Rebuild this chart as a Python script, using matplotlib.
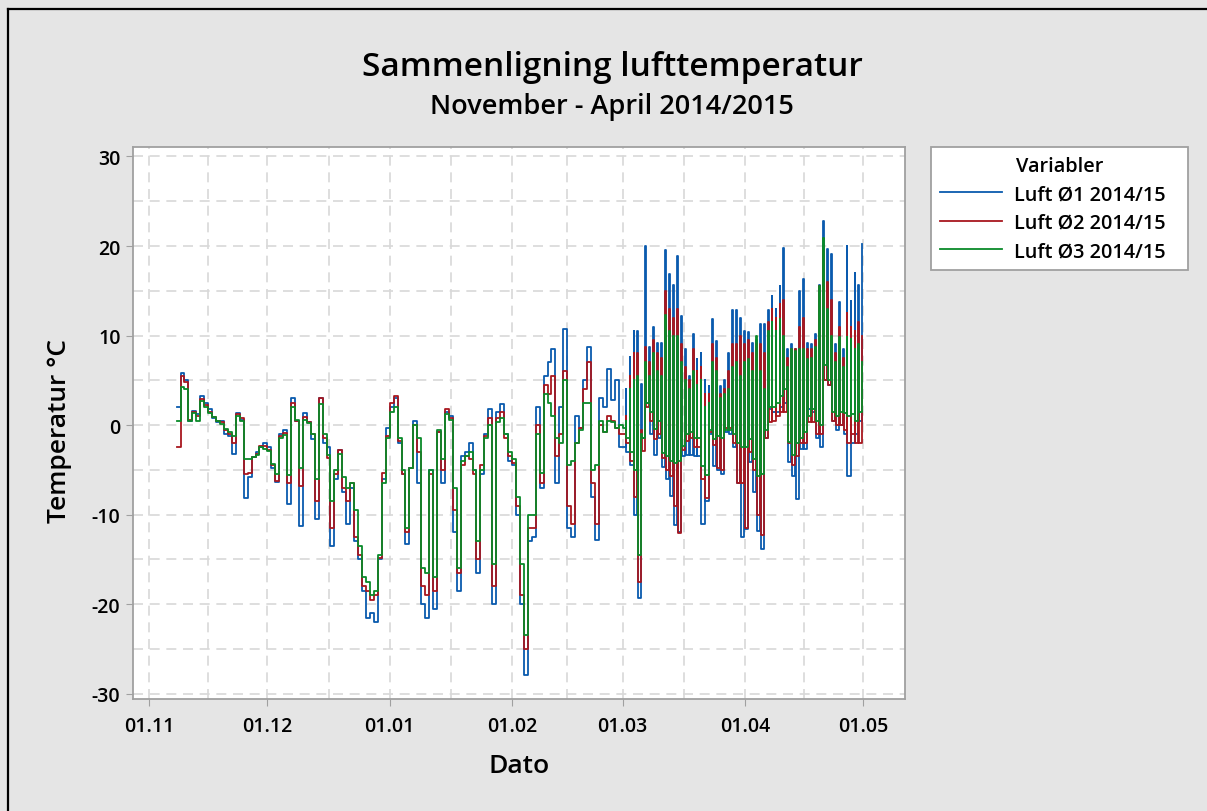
import numpy as np
import pandas as pd
import matplotlib
matplotlib.use('Agg')
import matplotlib.pyplot as plt
import matplotlib.dates as mdates
from matplotlib.lines import Line2D
from matplotlib.ticker import FixedLocator, MultipleLocator

# daglige verdier 08.11.2014 - 28.02.2015 (grader C)
luft1_vinter = [2.0, 5.8, 5.0, 0.5, 1.6, 1.2, 3.3, 2.5, 1.8, 0.8,
                0.3, 0.5, -1.0, -1.2, -3.2, 1.4, 0.6, -8.2, -5.8, -3.6,
                -3.0, -2.5, -2.0, -2.5, -4.8, -6.4, -1.0, -0.6, -8.8, 3.0,
                0.4, -11.3, 1.4, 0.3, -1.6, -10.5, 3.0, -2.0, -2.5, -13.5,
                -6.0, -2.8, -7.5, -11.0, -7.0, -13.0, -15.0, -18.5, -21.5, -21.0,
                -22.0, -15.0, -6.0, -0.3, 2.0, 3.0, -2.0, -5.5, -13.3, -4.8,
                0.5, -6.5, -20.0, -21.5, -5.0, -20.5, -0.8, -6.5, 1.5, 1.0,
                -12.0, -18.5, -3.5, -3.0, -2.0, -5.0, -16.5, -5.5, -1.0, 1.8,
                -20.0, 1.5, 2.3, -1.0, -4.0, -4.5, -10.0, -20.0, -27.9, -13.0,
                -12.5, 2.0, -7.0, 5.5, 7.0, 8.5, -6.5, 2.0, 10.7, -11.5,
                -12.5, 1.0, -0.3, 5.0, 8.7, -8.0, -12.8, 3.0, 2.0, 6.3,
                2.8, 5.0, -2.5]
luft2_vinter = [-2.5, 5.5, 4.8, 0.6, 1.5, 1.0, 2.9, 2.2, 1.5, 0.9,
                0.5, 0.3, -0.6, -1.0, -2.0, 1.2, 0.8, -5.5, -5.4, -3.6,
                -3.2, -2.3, -2.3, -2.8, -4.5, -6.3, -1.2, -0.9, -6.5, 2.5,
                0.5, -6.8, 0.9, 0.3, -1.0, -8.5, 3.0, -1.5, -3.7, -11.5,
                -5.5, -2.8, -7.0, -8.5, -6.5, -12.5, -14.5, -18.0, -18.5, -19.5,
                -19.0, -14.8, -5.3, -1.2, 2.5, 3.2, -1.8, -5.5, -12.0, -4.8,
                0.0, -3.0, -18.0, -19.0, -5.5, -18.5, -0.8, -5.0, 1.8, 0.8,
                -9.5, -16.5, -4.5, -3.5, -3.8, -5.5, -15.0, -4.5, -1.2, 0.8,
                -18.0, 0.8, 1.5, -1.5, -3.5, -4.2, -9.0, -19.0, -25.0, -11.5,
                -11.5, 0.0, -6.5, 4.5, 3.5, 5.5, -3.5, -1.0, 6.0, -9.0,
                -11.0, -2.0, -0.3, 4.0, 7.0, -6.5, -11.0, 0.0, -0.8, 1.0,
                0.5, -0.3, -1.0]
luft3_vinter = [0.5, 4.2, 4.0, 0.5, 1.4, 0.4, 2.7, 2.0, 1.4, 0.9,
                0.5, 0.1, -0.4, -0.8, -1.2, 1.0, 0.5, -3.8, -3.8, -3.6,
                -3.3, -2.4, -2.7, -2.9, -4.3, -5.5, -1.4, -1.1, -5.6, 2.0,
                0.6, -4.8, 0.6, 0.2, -1.0, -6.0, 2.3, -1.0, -3.3, -8.5,
                -5.0, -3.2, -5.8, -7.0, -6.5, -9.5, -13.5, -17.0, -17.5, -19.0,
                -18.5, -14.5, -6.5, -1.5, 1.5, 2.0, -1.5, -5.0, -11.5, -4.8,
                0.0, -1.5, -16.0, -16.5, -5.0, -17.0, -0.5, -3.8, 1.2, 0.6,
                -7.0, -16.0, -4.0, -3.5, -3.0, -5.0, -13.0, -5.0, -1.5, 0.0,
                -15.5, 0.3, 0.8, -1.0, -3.0, -3.8, -8.0, -15.5, -23.4, -10.0,
                -10.0, -1.0, -5.3, 3.5, 2.5, 1.0, -1.5, -2.0, 5.0, -4.5,
                -4.0, -2.0, -0.5, 2.5, 2.5, -5.0, -4.5, 0.5, -0.8, 0.5,
                0.3, -0.3, 0.0]

# natt (lav) og dag (hoy) 01.03.2015 - 30.04.2015
luft1_lav = [-2.5, -3.0, -4.5, -10.0, -19.3, -1.5, 2.5, -1.0, -3.4, -1.5,
             -4.7, -6.0, -7.9, -11.2, -12.0, -3.5, -3.3, -3.3, -3.5, -3.5,
             -11.0, -8.5, -1.0, -4.6, -5.0, -5.5, -0.8, -1.0, -2.5, -6.5,
             -12.5, -11.6, -4.1, -7.5, -11.8, -13.8, -1.5, 1.8, 1.5, 1.5,
             2.0, 2.5, -4.1, -5.7, -8.3, -2.7, -2.7, 1.8, 1.5, -1.5,
             -2.5, 5.0, 4.5, 0.5, -0.5, 0.0, -1.0, -5.7, -2.0, -1.0, 0.5]
luft1_hoy = [4.0, 7.6, 10.5, 10.5, 4.6, 20.0, 8.7, 10.9, 9.2, 9.2,
             19.6, 16.9, 15.6, 18.9, 12.2, 8.5, 5.5, 10.2, 7.4, 8.1,
             5.0, 4.4, 11.8, 9.4, 4.4, 5.0, 8.0, 12.9, 12.8, 12.0,
             10.5, 10.4, 9.2, 9.5, 11.3, 11.3, 12.8, 14.4, 13.0, 15.5,
             19.8, 8.5, 9.0, 8.5, 15.0, 16.3, 9.2, 9.0, 10.2, 15.6,
             22.8, 19.7, 19.1, 9.0, 13.7, 8.5, 20.0, 13.9, 17.0, 15.6, 20.2]
luft2_lav = [-1.0, -2.0, -4.0, -8.0, -17.5, -2.9, 2.0, 0.5, -1.6, -1.0,
             -3.7, -5.0, -5.7, -9.0, -12.1, -2.8, -1.8, -1.5, -2.5, -2.5,
             -6.0, -8.2, -0.8, -2.2, -4.8, -5.0, -0.3, -0.3, -2.0, -6.5,
             -6.5, -11.5, -3.0, -5.0, -10.0, -12.3, -1.5, 0.3, 0.5, 1.0,
             1.5, 1.5, -2.0, -4.5, -3.5, -2.0, -2.0, 0.3, 0.3, -1.0,
             -1.0, 5.0, 4.5, 0.5, 0.0, 0.0, -0.5, -2.0, -1.0, -2.0, -2.0]
luft2_hoy = [1.0, 5.5, 8.0, 8.0, -0.5, 8.7, 7.0, 9.5, 8.0, 7.5,
             15.0, 13.0, 12.0, 13.0, 9.0, 6.5, 5.0, 8.5, 6.0, 6.5,
             3.5, 3.5, 9.0, 7.5, 3.5, 4.0, 6.0, 9.0, 9.0, 10.0,
             9.0, 9.5, 8.0, 9.0, 9.0, 8.0, 11.5, 13.0, 12.0, 13.5,
             14.0, 7.5, 8.5, 8.5, 11.0, 12.0, 8.5, 8.5, 9.5, 15.5,
             19.5, 16.0, 14.0, 8.0, 11.0, 7.5, 12.5, 11.0, 10.5, 11.5, 10.0]
luft3_lav = [-0.3, -1.5, -3.0, -5.0, -14.5, -1.5, 2.5, 1.5, -0.4, 0.5,
             -3.1, -3.5, -4.0, -4.2, -4.0, -2.3, -1.0, -0.8, -1.5, -1.5,
             -4.6, -5.6, -0.5, -1.6, -1.2, -1.5, -0.5, -0.5, -1.0, -2.0,
             -2.5, -2.5, -1.6, -3.8, -5.7, -5.5, -0.5, 2.0, 2.0, 2.5,
             3.3, 4.0, -1.9, -3.4, -2.0, -1.5, -0.8, 1.0, 1.8, 0.5,
             0.0, 6.7, 5.0, 1.5, 1.0, 1.5, 1.3, 1.0, 1.2, 0.5, 1.5]
luft3_hoy = [0.5, 4.0, 5.0, 5.5, -1.0, 7.0, 5.5, 8.0, 6.0, 5.5,
             12.3, 10.5, 10.0, 10.0, 7.0, 5.0, 4.0, 6.0, 4.5, 5.0,
             2.0, 2.5, 7.0, 6.0, 3.0, 3.5, 4.0, 6.5, 7.0, 5.5,
             7.0, 7.4, 6.0, 10.0, 6.0, 4.0, 10.5, 11.5, 10.5, 11.8,
             10.0, 6.5, 8.5, 8.3, 8.5, 8.5, 7.4, 7.5, 8.7, 15.5,
             20.9, 13.0, 10.0, 7.0, 9.8, 6.5, 9.8, 9.6, 8.5, 9.0, 7.0]

navn = ['Luft Ø1 2014/15', 'Luft Ø2 2014/15', 'Luft Ø3 2014/15']
farger = ['#0a5aae', '#a8171f', '#0a8a2a']

vinter_tid = pd.date_range('2014-11-08', periods=len(luft1_vinter), freq='D')
var_dager = pd.date_range('2015-03-01', periods=len(luft1_lav), freq='D')
# natt fra midnatt, kort dagspiss på slutten av døgnet
var_tid = pd.DatetimeIndex(np.column_stack((var_dager, var_dager + pd.Timedelta(hours=19))).ravel())
tid = vinter_tid.append(var_tid)

def Serie(vinter, lav, hoy):
    return np.concatenate((vinter, np.column_stack((lav, hoy)).ravel()))

serier = [Serie(luft1_vinter, luft1_lav, luft1_hoy),
          Serie(luft2_vinter, luft2_lav, luft2_hoy),
          Serie(luft3_vinter, luft3_lav, luft3_hoy)]

plt.rcParams['font.family'] = ['Open Sans', 'DejaVu Sans']
plt.rcParams['axes.unicode_minus'] = False
W, H = 1207, 812
fig = plt.figure(figsize=(W / 100, H / 100), dpi=100, facecolor='#e5e5e5')
ax = fig.add_axes([133 / W, 1 - 700 / H, (905 - 133) / W, (700 - 148) / H])
ax.set_facecolor('white')

for s, n, c in zip(serier, navn, farger):
    ax.plot(tid, s, color=c, lw=1.3, drawstyle='steps-post', label=n)

ax.set_ylim(-30.6, 31.06)
ax.set_xlim(pd.Timestamp('2014-10-27 23:00'), pd.Timestamp('2015-05-11 14:00'))

maaneder = pd.date_range('2014-11-01', '2015-05-01', freq='MS')
mnum = mdates.date2num(maaneder)
ax.xaxis.set_major_locator(FixedLocator(mnum))
ax.xaxis.set_major_formatter(mdates.DateFormatter('%d.%m'))
ax.xaxis.set_minor_locator(FixedLocator((mnum[:-1] + mnum[1:]) / 2))
ax.yaxis.set_major_locator(MultipleLocator(10))
ax.yaxis.set_minor_locator(MultipleLocator(5))

ax.grid(which='both', color='#d8d8d8', ls=(0, (6, 4)), lw=1.2)
ax.set_axisbelow(True)
for sp in ax.spines.values():
    sp.set_color('#a0a0a0')
    sp.set_linewidth(1.3)
ax.tick_params(which='major', length=5, color='#a0a0a0', labelsize=14)
ax.tick_params(axis='x', pad=7)
ax.tick_params(axis='y', pad=4)
ax.tick_params(which='minor', length=0)
for lab in ax.get_xticklabels() + ax.get_yticklabels():
    lab.set_fontweight('semibold')

fig.text(612 / W, 1 - 67 / H, 'Sammenligning lufttemperatur', ha='center', va='center',
         fontsize=24, fontweight='semibold')
fig.text(612 / W, 1 - 107 / H, 'November - April 2014/2015', ha='center', va='center',
         fontsize=19.5, fontweight='semibold')
fig.text(60 / W, 1 - 431 / H, 'Temperatur °C', rotation=90, ha='center', va='center',
         fontsize=19, fontweight='semibold')
fig.text(519 / W, 1 - 767 / H, 'Dato', ha='center', va='center',
         fontsize=19, fontweight='semibold')

leg = ax.legend(loc='upper left', bbox_to_anchor=(931 / W, 1 - 273 / H, 257 / W, 125 / H),
                bbox_transform=fig.transFigure, mode='expand', borderaxespad=0,
                title='Variabler', fontsize=14.3, title_fontsize=14.3, handlelength=3.1,
                handletextpad=0.65, fancybox=False, edgecolor='#a0a0a0', framealpha=1,
                labelspacing=0.42, borderpad=0.45)
leg.get_frame().set_linewidth(1.3)
for t in leg.get_texts():
    t.set_fontweight('semibold')
leg.get_title().set_fontweight('semibold')

fig.add_artist(Line2D([8 / W, 8 / W], [0, 1 - 10 / H], transform=fig.transFigure, color='black', lw=1.6))
fig.add_artist(Line2D([8 / W, 1], [1 - 10 / H, 1 - 10 / H], transform=fig.transFigure, color='black', lw=1.6))

fig.savefig('out.png', dpi=100, facecolor=fig.get_facecolor())
